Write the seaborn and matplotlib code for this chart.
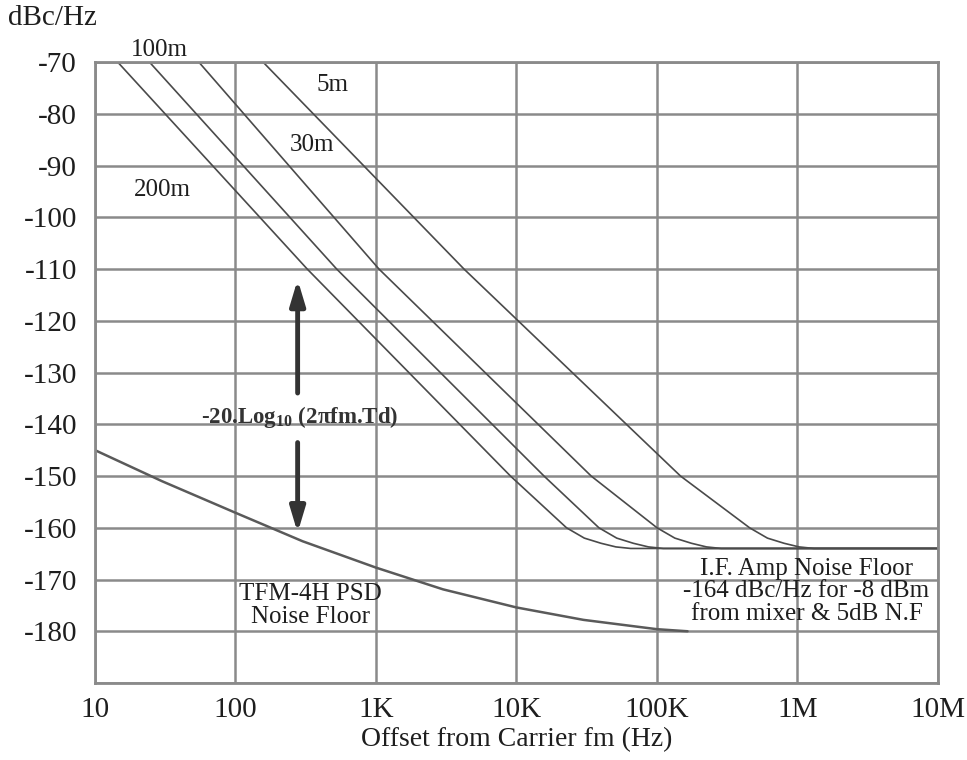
import numpy as np
import pandas as pd
import seaborn as sns
import matplotlib.pyplot as plt

# delay line sensitivity curves (Hz, dBc/Hz)
f_200m = [14.5, 324, 9060, 22700, 30400, 40000, 51000, 65000, 1e7]
db_200m = [-70, -110, -150, -160, -162, -163, -163.7, -164, -164]

f_100m = [24.4, 525, 15700, 38600, 51700, 67900, 86900, 111000, 1e7]
db_100m = [-70, -110, -150, -160, -162, -163, -163.7, -164, -164]

f_30m = [54.8, 1050, 34000, 100000, 134000, 176000, 225000, 287000, 1e7]
db_30m = [-70, -110, -150, -160, -162, -163, -163.7, -164, -164]

f_5m = [157, 4230, 147000, 456000, 611000, 803000, 1026000, 1309000, 1e7]
db_5m = [-70, -110, -150, -160, -162, -163, -163.7, -164, -164]

# TFM-4H PSD noise floor
f_tfm = [10, 30, 100, 300, 1000, 3000, 10000, 30000, 100000, 165000]
db_tfm = [-145, -151.0, -157.1, -162.6, -167.7, -171.9, -175.4, -177.8, -179.6, -180.0]

xticks = [10, 100, 1e3, 1e4, 1e5, 1e6, 1e7]
xticklabels = ["10", "100", "1K", "10K", "100K", "1M", "10M"]
yticks = list(range(-70, -181, -10))

sns.set_style("white")
plt.rcParams['font.family'] = ['Liberation Serif', 'DejaVu Serif']
plt.rcParams['mathtext.fontset'] = 'custom'
plt.rcParams['mathtext.rm'] = 'Liberation Serif'
plt.rcParams['mathtext.bf'] = 'Liberation Serif:bold'

fig = plt.figure(figsize=(9.67, 7.6), dpi=100)
ax = fig.add_axes([0.0982, 0.1013, 0.8718, 0.8171])

grid_c = "#8a8a8a"
line_c = "#4a4a4a"
text_c = "#1e1e1e"

for f, d in [(f_200m, db_200m), (f_100m, db_100m), (f_30m, db_30m), (f_5m, db_5m)]:
    sns.lineplot(x=f, y=d, ax=ax, color=line_c, lw=1.2, sort=False, estimator=None)
sns.lineplot(x=f_tfm, y=db_tfm, ax=ax, color="#5a5a5a", lw=1.8, sort=False, estimator=None)

ax.set_xscale("log")
ax.set_xlim(10, 1e7)
ax.set_ylim(-190, -70)
ax.set_xticks(xticks)
ax.set_xticklabels(xticklabels)
ax.minorticks_off()
ax.set_yticks(yticks + [-190])
ax.set_yticklabels([str(v) for v in yticks] + [""])
ax.tick_params(length=0, labelsize=21, colors=text_c)
ax.tick_params(axis="y", pad=13)
ax.tick_params(axis="x", pad=10)
ax.grid(True, color=grid_c, lw=1.8)
for s in ax.spines.values():
    s.set_color(grid_c)
    s.set_linewidth(2)
ax.set_xlabel("Offset from Carrier fm (Hz)", fontsize=20, color=text_c, labelpad=3)
ax.set_ylabel("")

fig.text(0.008, 0.976, "dBc/Hz", fontsize=21, color=text_c, va="center", ha="left")

# curve labels
txt = dict(fontsize=18, color=text_c, ha="center", va="center")
ax.text(28.7, -67.7, "100m", clip_on=False, **txt)
ax.text(493, -74.4, "5m", **txt)
ax.text(351, -86, "30m", **txt)
ax.text(30, -94.7, "200m", **txt)
ax.text(340, -175, "TFM-4H PSD\nNoise Floor", linespacing=1.05, **txt)
ax.text(1.16e6, -172.3, "I.F. Amp Noise Floor\n-164 dBc/Hz for -8 dBm\nfrom mixer & 5dB N.F",
        linespacing=1.05, **txt)

# slope arrows and formula
arr = dict(arrowstyle="-|>,head_width=0.45,head_length=1.5", color="#333333", lw=3.5)
ax.annotate("", xy=(277, -111.5), xytext=(277, -134.5), arrowprops=arr)
ax.annotate("", xy=(277, -161.5), xytext=(277, -143), arrowprops=arr)
ax.text(285, -138.5, r"-20.Log$_{\mathbf{10}}$ (2$\mathbf{\pi}$fm.Td)", fontsize=16.5,
        fontweight="bold", color="#333333", ha="center", va="center")

fig.savefig("out.png", dpi=100, facecolor="white")
